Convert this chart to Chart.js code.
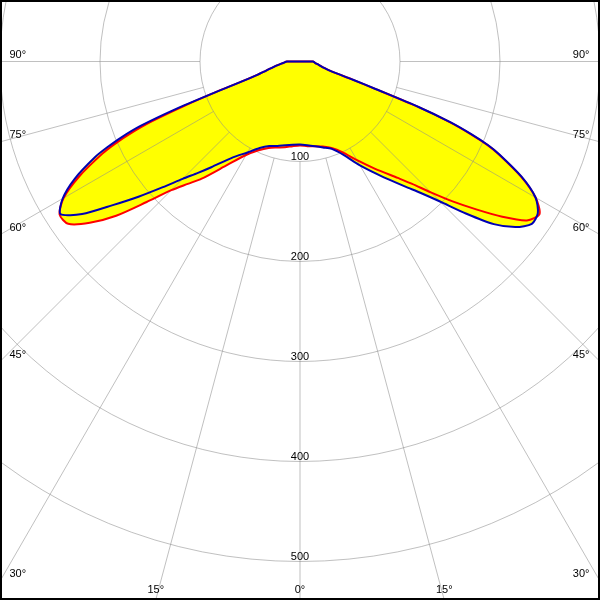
<!DOCTYPE html>
<html>
<head>
<meta charset="utf-8">
<script src="https://cdn.jsdelivr.net/npm/chart.js@4.4.1/dist/chart.umd.min.js"></script>
<style>
html,body{margin:0;padding:0;background:#fff;}
canvas{display:block;}
</style>
</head>
<body>
<canvas id="c" width="600" height="600"></canvas>
<script>
// gamma angles (degrees from nadir) and luminous intensity values
const gammaAngles = [0,5,10,15,20,25,30,35,40,42.5,45,47.5,50,52.5,55,57.5,60,62.5,65,66,67,68,69,70,71,72.5,75,80,85,90,180];
const redLeft   = [84,85,87,89,92,98,108,126,153,166,182,208,240,265,283,285,273,249,218,203,184,160,125,89,62,46,35,24,17,13,0];
const redRight  = [84,85,86,88,92,100,114,131,152,166,185,207,230,255,277,284,272,249,219,205,185,161,126,80,55,33,25,19,15,13,0];
const blueLeft  = [83,83.5,85,87.5,90,95.5,105,117,138,151,166,186,210,236,266,284,274,254,226,211,194,172,135,91,62,46,35,24,17,13,0];
const blueRight = [83,84,86,89,93,103,120,139,163,178,198,225,253,272,283,282,272,250,220,206,186,162,127,81,56,33,25,19,15,13,0];
const ringValues = [100,200,300,400,500];
const spokeAngles = [0,15,30,45,60,75,90];

function toPoints(left, right) {
  const pts = [];
  for (let i = gammaAngles.length - 1; i >= 0; i--) {
    const a = -gammaAngles[i] * Math.PI / 180;
    pts.push({x: left[i] * Math.sin(a), y: left[i] * Math.cos(a)});
  }
  for (let i = 1; i < gammaAngles.length; i++) {
    const a = gammaAngles[i] * Math.PI / 180;
    pts.push({x: right[i] * Math.sin(a), y: right[i] * Math.cos(a)});
  }
  return pts;
}

const FONT = '11px "Liberation Sans", Arial, sans-serif';

const polarGrid = {
  id: 'polarGrid',
  beforeDatasetsDraw(chart) {
    const {ctx, chartArea: ca, scales: {x, y}} = chart;
    const cx = x.getPixelForValue(0), cy = y.getPixelForValue(0);
    const k = x.getPixelForValue(1) - cx;
    ctx.save();
    ctx.beginPath();
    ctx.rect(ca.left, ca.top, ca.right - ca.left, ca.bottom - ca.top);
    ctx.clip();
    ctx.strokeStyle = 'rgba(140,140,140,0.55)';
    ctx.lineWidth = 1;
    ringValues.forEach(v => {
      ctx.beginPath();
      ctx.arc(cx, cy, v * k, 0, Math.PI * 2);
      ctx.stroke();
    });
    const r0 = ringValues[0] * k;
    spokeAngles.forEach(a => {
      (a === 0 ? [1] : [-1, 1]).forEach(s => {
        const t = s * a * Math.PI / 180;
        const dx = Math.sin(t), dy = Math.cos(t);
        ctx.beginPath();
        ctx.moveTo(cx + dx * r0, cy + dy * r0);
        ctx.lineTo(cx + dx * 2000, cy + dy * 2000);
        ctx.stroke();
      });
    });
    ctx.restore();
  },
  afterDatasetsDraw(chart) {
    const {ctx, chartArea: ca, scales: {x, y}} = chart;
    const cx = x.getPixelForValue(0), cy = y.getPixelForValue(0);
    const k = x.getPixelForValue(1) - cx;
    ctx.save();
    ctx.font = FONT;
    ctx.fillStyle = '#000';
    ctx.textBaseline = 'alphabetic';
    ctx.textAlign = 'center';
    ringValues.forEach(v => {
      ctx.fillText(String(v), cx, cy + v * k - 2);
    });
    spokeAngles.forEach(a => {
      const label = a + '°';
      const t = a * Math.PI / 180;
      const half = cx - ca.left;
      const down = ca.bottom - cy;
      // where does the spoke leave the frame?
      const dxAtBottom = Math.tan(t) * down;
      if (a !== 90 && dxAtBottom < half) {
        ctx.textAlign = 'center';
        if (a === 0) {
          ctx.fillText(label, cx, ca.bottom - 7);
        } else {
          ctx.fillText(label, cx - dxAtBottom, ca.bottom - 7);
          ctx.fillText(label, cx + dxAtBottom, ca.bottom - 7);
        }
      } else {
        const yLine = a === 90 ? cy : cy + half / Math.tan(t);
        ctx.textAlign = 'left';
        ctx.fillText(label, ca.left + 9.5, yLine - 4);
        ctx.textAlign = 'right';
        ctx.fillText(label, ca.right - 10.5, yLine - 4);
      }
    });
    ctx.strokeStyle = '#000';
    ctx.lineWidth = 2;
    ctx.strokeRect(ca.left + 1, ca.top + 1, ca.right - ca.left - 2, ca.bottom - ca.top - 2);
    ctx.restore();
  }
};

new Chart(document.getElementById('c'), {
  type: 'scatter',
  data: {
    datasets: [
      {
        label: 'C90-C270',
        data: toPoints(blueLeft, blueRight),
        showLine: true,
        borderColor: '#0000b4',
        borderWidth: 2,
        backgroundColor: '#ffff00',
        fill: 'shape',
        tension: 0.25,
        pointRadius: 0,
        order: 0
      },
      {
        label: 'C0-C180',
        data: toPoints(redLeft, redRight),
        showLine: true,
        borderColor: '#ff0000',
        borderWidth: 2,
        backgroundColor: '#ffff00',
        fill: 'shape',
        tension: 0.25,
        pointRadius: 0,
        order: 1
      }
    ]
  },
  options: {
    responsive: false,
    animation: false,
    events: [],
    layout: {padding: 0},
    scales: {
      x: {type: 'linear', min: -300, max: 300, display: false},
      y: {type: 'linear', min: -61.5, max: 538.5, reverse: true, display: false}
    },
    plugins: {
      legend: {display: false},
      tooltip: {enabled: false},
      filler: {drawTime: 'beforeDatasetsDraw'}
    }
  },
  plugins: [polarGrid]
});
</script>
</body>
</html>
